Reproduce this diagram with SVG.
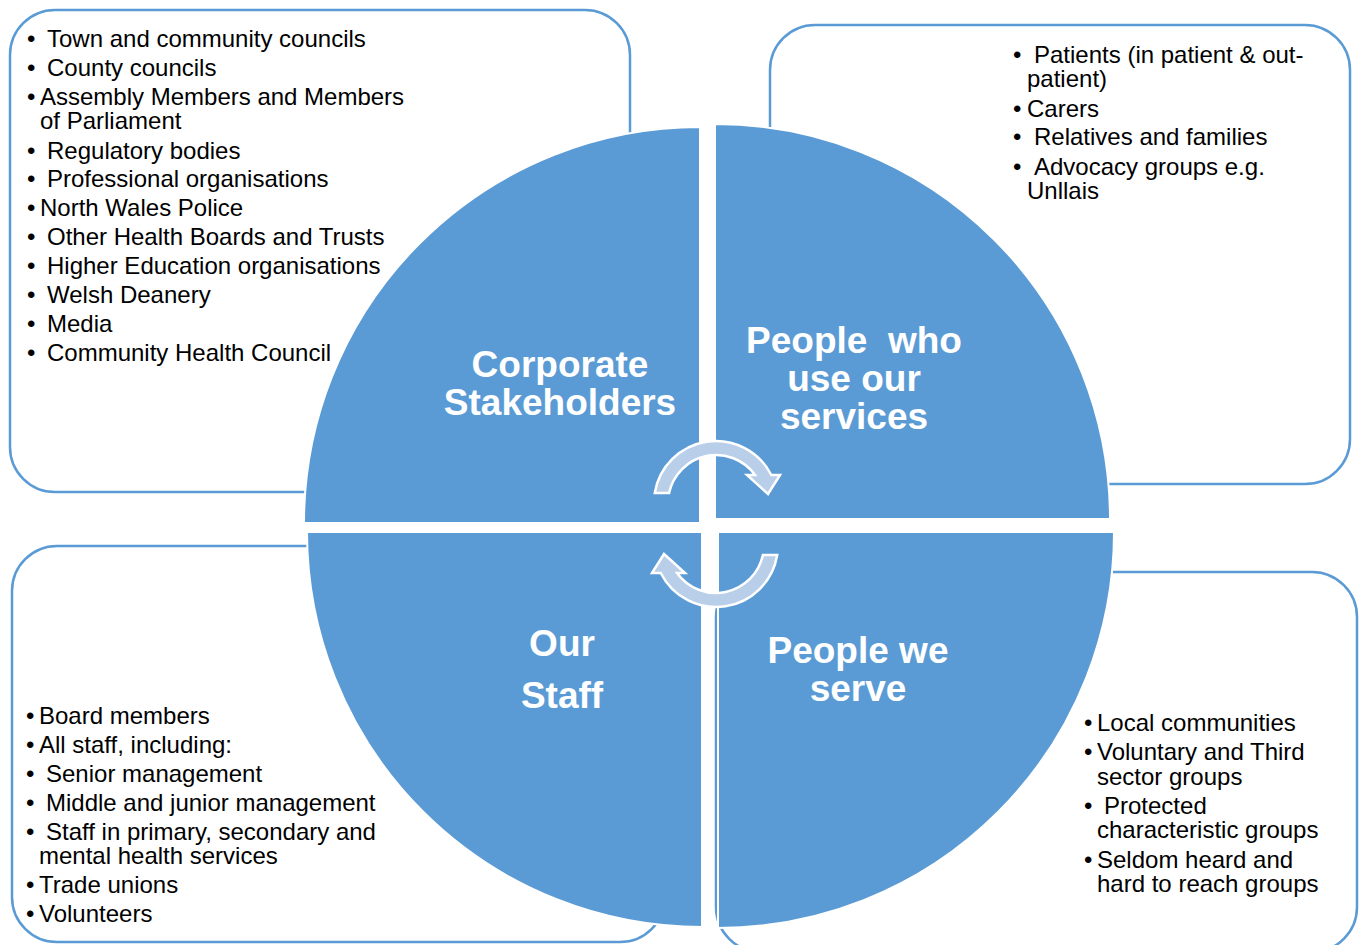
<svg xmlns="http://www.w3.org/2000/svg" width="1365" height="945" viewBox="0 0 1365 945">
<style>
.box{fill:#ffffff;stroke:#5b9bd5;stroke-width:2.5}
.q{fill:#5b9bd5;stroke:#ffffff;stroke-width:2}
.qt{font-family:"Liberation Sans",Arial,sans-serif;font-weight:bold;font-size:37px;fill:#ffffff;text-anchor:middle}
.li{font-family:"Liberation Sans",Arial,sans-serif;font-size:24px;fill:#000000}
.arr{fill:#b9cee9;stroke:#ffffff;stroke-width:2.5;stroke-linejoin:miter}
</style>
<defs>
<path id="circArrow" d="M654.8 493 A62 62 0 0 1 771.3 475 L780 475 L768 494 L747 475 L755 475 A48 48 0 0 0 669.1 493 Z"/>
</defs>
<rect width="1365" height="945" fill="#ffffff"/>

<g id="box-corporate">
<rect class="box" x="10" y="10" width="620" height="482" rx="45" ry="45"/>
</g>
<g id="box-people-use">
<rect class="box" x="770" y="25" width="580" height="459" rx="45" ry="45"/>
</g>
<g id="box-staff">
<rect class="box" x="12" y="546" width="653" height="396" rx="45" ry="45"/>
</g>
<g id="box-people-serve">
<rect class="box" x="716" y="572" width="641" height="380" rx="45" ry="45"/>
</g>

<g id="quadrant-corporate">
<path class="q" d="M700 523 L304 523 A396 396 0 0 1 700 127 Z"/>
<text class="qt" x="560" y="377">Corporate</text>
<text class="qt" x="560" y="415">Stakeholders</text>
</g>
<g id="quadrant-people-use">
<path class="q" d="M715 519 L715 124 A395 395 0 0 1 1110 519 Z"/>
<text class="qt" x="854" y="353" xml:space="preserve">People  who</text>
<text class="qt" x="854" y="391">use our</text>
<text class="qt" x="854" y="429">services</text>
</g>
<g id="quadrant-staff">
<path class="q" d="M702 532 L702 927 A395 395 0 0 1 307 532 Z"/>
<text class="qt" x="562" y="656">Our</text>
<text class="qt" x="562" y="708">Staff</text>
</g>
<g id="quadrant-people-serve">
<path class="q" d="M718 532 L1114 532 A396 396 0 0 1 718 928 Z"/>
<text class="qt" x="858" y="663">People we</text>
<text class="qt" x="858" y="701">serve</text>
</g>

<g id="connectors">
<use href="#circArrow" class="arr"/>
<use href="#circArrow" class="arr" transform="rotate(180 716 524)"/>
</g>

<g id="list-corporate" class="li">
<text x="27" y="47">•</text><text x="47" y="47">Town and community councils</text>
<text x="27" y="76">•</text><text x="47" y="76">County councils</text>
<text x="27" y="105">•</text><text x="40" y="105">Assembly Members and Members</text>
<text x="40" y="129">of Parliament</text>
<text x="27" y="159">•</text><text x="47" y="159">Regulatory bodies</text>
<text x="27" y="187">•</text><text x="47" y="187">Professional organisations</text>
<text x="27" y="216">•</text><text x="40" y="216">North Wales Police</text>
<text x="27" y="245">•</text><text x="47" y="245">Other Health Boards and Trusts</text>
<text x="27" y="274">•</text><text x="47" y="274">Higher Education organisations</text>
<text x="27" y="303">•</text><text x="47" y="303">Welsh Deanery</text>
<text x="27" y="332">•</text><text x="47" y="332">Media</text>
<text x="27" y="361">•</text><text x="47" y="361">Community Health Council</text>
</g>

<g id="list-people-use" class="li">
<text x="1013" y="63">•</text><text x="1034" y="63">Patients (in patient &amp; out-</text>
<text x="1027" y="87">patient)</text>
<text x="1013" y="117">•</text><text x="1027" y="117">Carers</text>
<text x="1013" y="145">•</text><text x="1034" y="145">Relatives and families</text>
<text x="1013" y="175">•</text><text x="1034" y="175">Advocacy groups e.g.</text>
<text x="1027" y="199">Unllais</text>
</g>

<g id="list-staff" class="li">
<text x="26" y="724">•</text><text x="39" y="724">Board members</text>
<text x="26" y="753">•</text><text x="39" y="753">All staff, including:</text>
<text x="26" y="782">•</text><text x="46" y="782">Senior management</text>
<text x="26" y="811">•</text><text x="46" y="811">Middle and junior management</text>
<text x="26" y="840">•</text><text x="46" y="840">Staff in primary, secondary and</text>
<text x="39" y="864">mental health services</text>
<text x="26" y="893">•</text><text x="39" y="893">Trade unions</text>
<text x="26" y="922">•</text><text x="39" y="922">Volunteers</text>
</g>

<g id="list-people-serve" class="li">
<text x="1084" y="731">•</text><text x="1097" y="731">Local communities</text>
<text x="1084" y="760">•</text><text x="1097" y="760">Voluntary and Third</text>
<text x="1097" y="785">sector groups</text>
<text x="1084" y="814">•</text><text x="1104" y="814">Protected</text>
<text x="1097" y="838">characteristic groups</text>
<text x="1084" y="868">•</text><text x="1097" y="868">Seldom heard and</text>
<text x="1097" y="892">hard to reach groups</text>
</g>
</svg>
